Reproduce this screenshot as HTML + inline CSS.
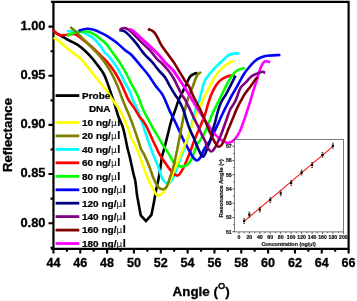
<!DOCTYPE html>
<html><head><meta charset="utf-8"><title>Reflectance vs Angle</title>
<style>html,body{margin:0;padding:0;background:#fff}body{width:357px;height:301px;overflow:hidden}</style></head>
<body>
<svg width="357" height="301" viewBox="0 0 357 301" style="display:block;filter:blur(0.35px)">
<rect width="357" height="301" fill="#fff"/>
<path d="M51.05 1.80H349.65M51.05 248.80H349.65M53.45 1.80V248.80M348.60 1.80V248.80" fill="none" stroke="#000" stroke-width="2.2"/>
<g fill="none" stroke-width="2.6" stroke-linecap="butt" stroke-linejoin="miter">
<path stroke="#000000" d="M53.5 31.0C54.1 31.4 55.8 32.8 57.0 33.5C58.2 34.2 59.3 34.8 60.5 35.5C61.7 36.2 62.7 36.8 64.3 37.7C65.9 38.6 68.1 39.9 70.2 41.0C72.3 42.1 74.7 43.0 76.9 44.4C79.1 45.8 81.4 47.5 83.6 49.5C85.8 51.5 88.2 53.9 90.3 56.2C92.4 58.5 94.1 60.6 96.3 63.5C98.5 66.4 101.6 70.2 103.5 73.5C105.4 76.8 106.4 80.2 107.7 83.6C109.0 87.0 110.0 90.3 111.1 93.7C112.2 97.1 113.3 99.9 114.5 103.7C115.7 107.5 117.1 112.9 118.5 116.8C119.9 120.7 121.6 123.5 122.7 126.9C123.8 130.3 124.5 133.7 125.2 137.0C126.0 140.3 126.4 143.4 127.2 147.0C128.0 150.6 129.1 154.0 130.1 158.4C131.1 162.8 132.6 170.0 133.4 173.6C134.2 177.2 134.6 177.5 135.1 180.0C135.6 182.5 136.0 186.0 136.3 188.7C136.7 191.4 136.4 191.6 137.2 196.0C137.9 200.4 140.8 215.4 140.8 215.4L146.0 221.1L151.4 214.9C151.4 214.9 152.8 208.1 153.6 204.0C154.4 199.9 155.3 194.1 156.1 190.1C156.9 186.1 157.6 183.6 158.3 180.0C159.0 176.4 159.7 172.4 160.3 168.5C160.9 164.6 161.3 160.4 162.0 156.8C162.7 153.2 163.8 150.6 164.7 147.0C165.6 143.4 166.5 139.5 167.6 135.3C168.7 131.1 169.7 126.0 171.0 121.8C172.3 117.6 173.9 113.7 175.2 110.1C176.5 106.5 177.6 102.6 178.6 100.0C179.6 97.4 180.2 96.8 181.3 94.5C182.5 92.2 184.1 89.0 185.5 86.1C186.9 83.1 188.4 78.9 190.0 76.8C191.6 74.7 193.8 74.1 195.1 73.5C196.4 72.9 197.2 73.1 197.6 73.0"/>
<path stroke="#00ffff" d="M66.8 31.0C67.6 31.1 69.5 31.2 71.8 31.3C74.0 31.4 77.8 31.3 80.3 31.8C82.8 32.3 84.8 33.2 87.0 34.3C89.2 35.4 91.5 36.5 93.7 38.5C95.9 40.5 98.5 43.7 100.4 46.1C102.3 48.5 103.8 51.3 105.0 52.8C106.2 54.3 106.3 53.4 107.7 55.0C109.1 56.6 111.6 59.8 113.6 62.6C115.6 65.4 117.7 68.6 119.5 71.8C121.3 75.0 122.8 78.7 124.5 81.9C126.2 85.1 128.2 88.1 129.6 91.1C131.0 94.1 131.4 96.8 132.8 100.0C134.2 103.2 136.4 106.8 137.8 110.1C139.2 113.4 139.7 115.5 141.2 120.0C142.7 124.5 144.9 131.3 146.9 137.0C148.9 142.7 150.9 148.7 152.9 153.9C154.9 159.1 157.2 164.0 158.7 168.0C160.2 172.0 160.8 175.5 162.0 178.0C163.2 180.5 165.0 181.9 166.0 182.8C167.0 183.8 167.1 184.0 168.0 183.7C168.9 183.4 170.2 182.6 171.3 181.1C172.4 179.6 173.1 178.2 174.6 174.4C176.1 170.6 178.5 163.5 180.4 158.5C182.3 153.5 184.3 149.1 186.0 144.2C187.7 139.3 188.8 135.0 190.5 129.0C192.2 123.0 194.5 113.2 196.0 108.4C197.5 103.6 198.4 102.7 199.3 100.0C200.2 97.3 200.5 95.3 201.5 92.0C202.5 88.7 203.2 84.0 205.2 80.2C207.2 76.4 210.8 72.5 213.6 69.3C216.4 66.1 219.3 63.6 221.9 61.2C224.5 58.8 226.4 56.1 229.3 54.8C232.2 53.5 237.7 53.5 239.4 53.2"/>
<path stroke="#ff0000" d="M53.4 30.1C53.8 30.6 54.9 32.1 56.0 33.0C57.1 33.9 58.2 34.9 60.0 35.2C61.8 35.5 64.3 34.9 66.8 34.8C69.3 34.6 72.4 33.4 75.2 34.3C78.0 35.2 80.8 38.1 83.6 40.2C86.4 42.3 89.2 44.5 92.0 47.0C94.8 49.5 97.8 52.7 100.4 55.3C103.0 57.9 105.4 59.9 107.7 62.6C110.0 65.3 112.4 68.6 114.5 71.8C116.6 75.0 118.6 78.7 120.3 81.9C122.0 85.1 123.1 88.1 124.5 91.1C125.9 94.1 126.9 97.1 128.6 100.0C130.3 102.9 132.7 105.6 134.5 108.4C136.3 111.2 138.0 114.6 139.5 116.8C141.0 119.0 142.2 119.5 143.5 121.5C144.8 123.5 146.2 125.8 147.5 128.5C148.8 131.2 150.1 134.4 151.5 137.5C152.9 140.6 154.7 144.3 156.0 147.0C157.3 149.7 158.4 152.2 159.3 153.9C160.2 155.7 160.2 155.3 161.6 157.5C163.0 159.7 166.2 164.4 167.9 166.8C169.7 169.2 170.5 170.4 172.1 171.9C173.7 173.4 175.8 176.0 177.6 175.6C179.3 175.2 181.1 172.0 182.6 169.4C184.1 166.8 185.5 163.1 186.8 160.2C188.1 157.3 188.9 155.2 190.2 151.8C191.5 148.4 192.8 144.2 194.5 140.0C196.2 135.8 198.5 130.5 200.2 126.5C201.9 122.5 203.2 119.7 204.5 116.0C205.8 112.3 206.9 107.8 208.0 104.2C209.1 100.6 210.0 97.7 211.3 94.5C212.7 91.3 214.4 87.8 216.1 85.2C217.8 82.7 219.6 80.7 221.7 79.2C223.8 77.7 226.4 76.7 228.4 76.0C230.4 75.3 232.7 75.3 233.5 75.2"/>
<path stroke="#00ff00" d="M66.8 36.0C67.6 35.6 69.5 34.2 71.8 33.5C74.0 32.8 77.5 32.1 80.3 31.8C83.1 31.5 86.2 31.2 88.7 31.8C91.2 32.4 93.2 33.8 95.4 35.2C97.6 36.6 100.1 38.7 102.0 40.2C103.9 41.7 104.8 42.1 106.7 44.4C108.6 46.6 111.1 50.5 113.4 53.7C115.7 56.9 118.2 60.1 120.3 63.4C122.4 66.7 124.4 70.1 126.2 73.5C128.0 76.9 129.6 80.4 131.3 83.6C133.0 86.8 134.9 90.0 136.3 92.8C137.7 95.6 138.6 97.7 139.7 100.4C140.8 103.1 141.4 105.9 142.9 109.2C144.4 112.5 146.8 116.5 148.6 120.0C150.4 123.5 152.5 127.4 154.0 130.0C155.5 132.6 156.1 133.3 157.6 135.8C159.1 138.3 161.1 142.0 163.0 145.0C164.9 148.0 167.6 151.8 168.9 153.9C170.2 156.0 170.0 156.2 171.0 157.8C172.0 159.4 173.2 162.0 175.0 163.5C176.8 165.0 179.7 166.4 181.8 166.6C183.9 166.8 186.1 165.5 187.6 164.4C189.1 163.3 189.9 162.3 191.0 160.2C192.1 158.1 193.4 154.5 194.4 151.8C195.4 149.1 196.3 145.9 197.2 144.0C198.1 142.1 198.8 142.4 200.0 140.5C201.2 138.6 203.3 135.3 204.6 132.8C205.9 130.3 206.8 128.2 208.0 125.3C209.2 122.4 210.2 118.8 211.8 115.2C213.4 111.6 215.9 106.7 217.5 103.4C219.1 100.1 219.9 98.5 221.5 95.3C223.1 92.1 225.4 87.1 227.1 84.0C228.8 80.9 229.8 78.8 231.5 76.5C233.2 74.2 234.8 71.9 237.0 70.5C239.2 69.1 243.5 68.3 244.8 67.9"/>
<path stroke="#0000ff" d="M78.6 30.5C80.0 30.2 84.5 28.9 87.0 28.8C89.5 28.7 91.5 29.2 93.7 29.8C95.9 30.4 98.0 31.4 100.4 32.6C102.9 33.8 105.7 35.1 108.4 36.8C111.1 38.5 114.0 40.5 116.8 42.7C119.6 45.0 122.8 48.2 125.2 50.3C127.7 52.3 129.0 52.5 131.5 55.0C134.0 57.5 137.3 61.7 140.1 65.1C142.9 68.5 146.0 71.8 148.5 75.2C151.0 78.6 153.0 82.2 155.2 85.3C157.4 88.4 160.2 91.2 161.9 93.7C163.6 96.2 163.9 97.3 165.1 100.0C166.3 102.7 167.8 106.7 169.3 110.1C170.9 113.5 172.7 116.7 174.4 120.2C176.1 123.7 177.9 127.8 179.4 131.1C180.9 134.4 182.2 137.5 183.6 140.3C185.0 143.1 186.3 145.2 187.8 148.0C189.3 150.8 191.2 154.7 192.7 156.8C194.2 158.9 195.6 160.4 196.9 160.5C198.2 160.6 199.3 159.0 200.3 157.6C201.3 156.2 201.8 153.8 202.8 151.8C203.8 149.9 204.8 147.9 206.1 145.9C207.4 143.9 209.1 142.3 210.5 140.0C211.9 137.7 213.0 134.9 214.3 132.0C215.6 129.1 217.1 125.8 218.5 122.7C219.9 119.6 221.1 116.7 222.7 113.5C224.2 110.3 226.3 106.3 227.8 103.4C229.3 100.5 229.9 98.9 231.5 96.0C233.1 93.1 235.2 89.6 237.3 86.0C239.4 82.4 241.5 77.7 243.8 74.2C246.1 70.7 248.8 67.5 251.0 65.0C253.2 62.5 254.6 60.9 257.0 59.4C259.4 57.9 261.5 56.7 265.4 56.0C269.3 55.3 277.9 55.2 280.4 55.0"/>
<path stroke="#ffff00" d="M53.7 37.7C54.8 38.4 57.8 40.2 60.0 41.9C62.2 43.6 64.3 45.7 66.8 47.8C69.3 49.9 72.8 52.6 75.2 54.5C77.6 56.4 79.1 57.1 81.0 59.0C82.9 60.9 84.6 63.4 86.7 65.9C88.8 68.5 91.2 71.5 93.4 74.3C95.7 77.1 98.0 79.9 100.2 82.7C102.5 85.5 104.8 88.2 106.9 91.1C109.0 94.0 110.7 97.1 112.6 100.0C114.5 102.9 116.7 105.5 118.5 108.4C120.3 111.3 122.0 114.4 123.5 117.6C125.0 120.8 126.4 124.3 127.7 127.7C129.0 131.1 129.9 134.9 131.1 137.8C132.3 140.7 133.7 142.1 135.1 145.0C136.5 147.9 137.9 151.5 139.3 155.1C140.7 158.7 142.1 162.9 143.5 166.8C144.9 170.7 146.1 175.0 147.7 178.6C149.2 182.2 151.4 185.8 152.8 188.4C154.2 191.0 155.1 193.1 156.1 194.3C157.1 195.5 157.4 195.9 158.7 195.5C160.0 195.1 162.4 193.4 163.7 192.1C164.9 190.8 165.1 189.5 166.2 187.5C167.3 185.5 168.9 183.2 170.2 180.3C171.5 177.4 172.8 173.7 174.2 170.3C175.6 167.0 177.0 163.6 178.4 160.2C179.8 156.8 181.2 153.5 182.6 150.1C184.0 146.7 185.2 144.2 186.8 140.0C188.4 135.8 190.4 129.6 192.0 125.2C193.6 120.8 195.1 116.8 196.6 113.4C198.1 110.0 199.6 108.0 201.0 105.0C202.4 102.0 203.4 98.8 205.0 95.5C206.6 92.2 208.5 88.7 210.3 85.3C212.2 81.9 214.2 78.0 216.1 75.2C218.0 72.4 219.5 70.7 221.7 68.6C223.9 66.5 227.2 64.0 229.3 62.7C231.4 61.4 233.6 61.3 234.5 61.0"/>
<path stroke="#808000" d="M70.2 27.1C71.3 28.0 74.7 30.6 76.9 32.6C79.1 34.6 81.4 37.1 83.6 39.4C85.8 41.6 88.1 43.9 90.3 46.1C92.5 48.3 94.6 50.1 97.0 52.8C99.4 55.4 102.2 58.7 104.5 62.0C106.8 65.3 109.2 69.1 111.1 72.6C113.0 76.0 114.7 79.6 116.1 82.7C117.5 85.8 118.4 88.1 119.5 91.1C120.6 94.0 121.7 97.2 122.9 100.4C124.1 103.6 125.5 106.8 126.9 110.1C128.3 113.4 129.7 116.6 131.1 120.2C132.5 123.8 134.0 128.3 135.3 131.9C136.6 135.5 137.7 139.1 138.7 142.0C139.7 144.9 140.2 147.4 141.2 149.6C142.1 151.8 143.0 152.2 144.4 155.1C145.8 158.0 147.9 162.9 149.4 166.8C150.9 170.7 152.2 175.3 153.6 178.6C155.0 181.9 156.4 184.7 157.8 186.5C159.2 188.3 160.6 189.1 162.0 189.3C163.4 189.5 164.9 189.3 166.2 187.5C167.5 185.7 168.5 181.8 169.6 178.6C170.7 175.4 171.8 172.4 172.9 168.5C174.0 164.6 175.2 159.3 176.1 155.0C177.0 150.7 177.6 147.5 178.6 142.5C179.6 137.5 180.9 130.3 181.9 125.2C182.9 120.1 183.6 116.0 184.5 111.8C185.4 107.6 186.2 104.2 187.5 100.0C188.8 95.8 191.0 90.9 192.6 86.9C194.2 82.9 195.4 78.5 196.8 76.0C198.2 73.5 200.3 72.5 201.0 71.8"/>
<path stroke="#ff00ff" d="M129.5 28.9C129.9 29.1 131.2 29.6 132.0 30.2C132.8 30.8 132.8 30.6 134.6 32.2C136.4 33.8 140.1 37.1 142.8 39.6C145.5 42.1 148.3 44.6 151.0 47.2C153.7 49.8 156.4 52.5 158.9 55.2C161.4 57.9 163.8 60.9 166.1 63.4C168.4 65.9 170.8 67.6 172.9 70.1C175.0 72.6 176.9 75.8 178.7 78.5C180.5 81.2 182.2 83.7 183.8 86.1C185.4 88.5 186.4 90.1 188.0 92.8C189.6 95.5 192.2 100.0 193.4 102.0C194.6 104.0 193.6 102.9 195.0 105.1C196.4 107.3 199.5 111.8 201.7 115.2C203.9 118.6 206.2 122.1 208.4 125.3C210.7 128.5 212.9 132.0 215.2 134.5C217.4 137.0 219.7 139.0 221.9 140.4C224.1 141.8 226.5 143.1 228.6 142.9C230.7 142.8 232.7 141.3 234.5 139.5C236.3 137.7 238.1 134.7 239.5 132.0C240.9 129.3 241.8 126.7 242.9 123.6C244.0 120.5 245.2 116.9 246.3 113.5C247.4 110.1 248.6 106.5 249.6 103.4C250.6 100.3 251.3 97.7 252.1 95.0C252.9 92.3 253.8 89.5 254.6 87.0C255.4 84.5 256.1 82.8 257.0 79.9C257.9 77.0 258.7 72.6 259.8 69.7C260.9 66.8 262.5 63.9 263.5 62.5C264.5 61.1 264.9 61.2 266.0 61.2C267.1 61.2 269.5 62.0 270.2 62.2"/>
<path stroke="#000080" d="M119.3 30.1C120.3 30.4 122.8 30.1 125.2 31.8C127.6 33.5 130.8 37.0 133.6 40.2C136.4 43.4 140.1 48.6 142.0 51.1C143.9 53.6 143.5 53.2 145.1 55.0C146.7 56.8 149.6 59.2 151.8 61.7C154.1 64.2 156.3 67.4 158.6 70.1C160.8 72.8 163.4 74.9 165.3 77.7C167.2 80.5 168.6 84.0 170.3 86.9C172.0 89.8 174.0 93.1 175.4 95.3C176.8 97.5 177.4 97.8 178.6 100.0C179.8 102.2 181.6 105.3 182.8 108.4C184.1 111.5 185.0 115.1 186.1 118.5C187.2 121.9 188.2 125.4 189.5 128.6C190.8 131.8 192.3 134.6 193.7 137.8C195.1 141.0 196.6 145.0 197.7 147.6C198.8 150.2 199.5 151.9 200.3 153.4C201.2 154.9 202.0 156.8 202.8 156.8C203.6 156.8 204.5 155.1 205.3 153.4C206.1 151.7 207.0 148.7 207.8 146.7C208.6 144.7 209.3 143.8 210.1 141.2C210.9 138.6 211.8 134.3 212.6 131.1C213.4 127.9 214.3 125.1 215.2 121.9C216.0 118.7 216.7 115.2 217.7 111.8C218.7 108.4 220.0 104.6 221.4 101.7C222.8 98.8 224.3 97.3 226.0 94.3C227.7 91.3 229.9 86.7 231.5 83.6C233.1 80.5 234.8 77.0 235.5 75.7"/>
<path stroke="#800080" d="M119.8 29.3C120.7 29.1 123.5 27.8 125.2 28.1C127.0 28.4 128.3 29.4 130.3 31.0C132.3 32.6 134.8 35.5 137.0 37.7C139.2 39.9 141.5 42.2 143.7 44.4C145.9 46.6 148.0 48.3 150.2 50.7C152.4 53.1 154.8 56.6 156.7 58.7C158.6 60.8 159.9 61.4 161.9 63.4C163.9 65.5 166.7 68.5 168.7 71.0C170.7 73.5 172.2 75.8 173.7 78.5C175.2 81.2 176.5 84.1 177.9 86.9C179.3 89.7 180.9 93.1 182.1 95.3C183.3 97.5 184.1 97.8 185.3 100.0C186.5 102.2 188.1 105.5 189.5 108.4C190.9 111.3 192.3 114.6 193.7 117.6C195.1 120.5 196.6 123.4 197.9 126.1C199.2 128.8 200.0 130.9 201.3 133.6C202.6 136.2 204.6 139.8 205.5 142.0C206.4 144.2 206.1 145.1 207.0 146.7C207.9 148.3 209.9 151.1 211.2 151.4C212.4 151.7 213.5 149.7 214.5 148.4C215.5 147.1 216.2 145.3 217.1 143.4C218.0 141.5 219.1 139.6 220.2 137.0C221.3 134.4 222.5 130.9 223.6 127.8C224.7 124.7 225.8 121.6 226.9 118.5C228.0 115.4 229.0 112.0 230.3 109.3C231.6 106.6 233.4 104.6 234.5 102.6C235.6 100.5 236.0 99.5 237.0 97.0C238.0 94.5 239.1 90.2 240.5 87.8C241.9 85.4 243.8 84.6 245.6 82.7C247.4 80.8 249.4 78.0 251.3 76.5C253.2 75.0 255.1 74.4 257.0 73.6C258.9 72.8 261.2 71.8 262.6 71.7C264.0 71.6 264.7 72.9 265.1 73.1"/>
<path stroke="#ff00ff" d="M129.5 28.9C129.9 29.1 131.2 29.6 132.0 30.2C132.8 30.8 132.8 30.6 134.6 32.2C136.4 33.8 140.1 37.1 142.8 39.6C145.5 42.1 148.3 44.6 151.0 47.2C153.7 49.8 156.4 52.5 158.9 55.2C161.4 57.9 163.8 60.9 166.1 63.4C168.4 65.9 170.8 67.6 172.9 70.1C175.0 72.6 176.9 75.8 178.7 78.5C180.5 81.2 182.2 83.7 183.8 86.1C185.4 88.5 186.4 90.1 188.0 92.8C189.6 95.5 192.5 100.5 193.4 102.0"/>
<path stroke="#800000" d="M147.9 29.3C148.3 29.4 149.5 29.4 150.5 29.9C151.5 30.3 152.7 30.9 153.8 32.0C154.9 33.1 156.0 34.7 157.2 36.8C158.4 38.9 159.3 41.7 160.9 44.4C162.5 47.1 165.0 50.3 166.8 52.8C168.6 55.3 170.5 57.7 171.8 59.5C173.1 61.3 173.2 61.4 174.5 63.4C175.8 65.5 177.9 69.0 179.6 71.8C181.3 74.6 183.1 77.8 184.6 80.2C186.1 82.6 187.3 83.4 188.8 86.1C190.3 88.8 191.9 93.1 193.4 96.2C194.9 99.3 196.4 102.3 197.6 104.6C198.8 106.9 199.1 107.4 200.4 110.1C201.7 112.8 203.7 117.2 205.3 121.0C206.9 124.8 208.5 129.3 210.1 132.8C211.7 136.3 213.3 139.7 214.7 142.0C216.1 144.3 217.5 146.3 218.7 146.7C219.9 147.1 221.0 145.8 222.1 144.2C223.2 142.6 224.2 139.6 225.3 137.0C226.4 134.4 227.3 131.7 228.6 128.6C229.8 125.5 231.5 121.6 232.8 118.5C234.1 115.4 234.9 112.9 236.2 110.1C237.5 107.3 238.9 104.4 240.4 101.7C241.9 99.0 243.2 96.4 244.9 93.8C246.7 91.2 249.2 88.2 250.9 85.9C252.6 83.6 253.9 81.5 255.0 80.0C256.1 78.5 257.1 77.5 257.5 77.0"/>
</g>
<g stroke-width="2.8" fill="none">
<path stroke="#000000" d="M55.6 95.6H79.3"/>
<path stroke="#ffff00" d="M55.6 122.5H79.3"/>
<path stroke="#808000" d="M55.6 135.9H79.3"/>
<path stroke="#00ffff" d="M55.6 149.4H79.3"/>
<path stroke="#ff0000" d="M55.6 162.8H79.3"/>
<path stroke="#00ff00" d="M55.6 176.3H79.3"/>
<path stroke="#0000ff" d="M55.6 189.8H79.3"/>
<path stroke="#000080" d="M55.6 203.2H79.3"/>
<path stroke="#800080" d="M55.6 216.6H79.3"/>
<path stroke="#800000" d="M55.6 230.1H79.3"/>
<path stroke="#ff00ff" d="M55.6 243.5H79.3"/>
</g>
<g font-family="'Liberation Sans',Arial,sans-serif" font-weight="bold" font-size="10" fill="#000" stroke="#000" stroke-width="0.25">
<text transform="translate(82 98.9) scale(1 0.95)">Probe</text>
<text transform="translate(88.9 112.3) scale(1 0.95)">DNA</text>
<text transform="translate(82 125.8) scale(1 0.95)">10 ng/<tspan font-family="'DejaVu Sans','Liberation Sans',sans-serif" font-weight="normal" font-size="9" stroke="none">μ</tspan><tspan font-size="11" dx="0.6">l</tspan></text>
<text transform="translate(82 139.2) scale(1 0.95)">20 ng/<tspan font-family="'DejaVu Sans','Liberation Sans',sans-serif" font-weight="normal" font-size="9" stroke="none">μ</tspan><tspan font-size="11" dx="0.6">l</tspan></text>
<text transform="translate(82 152.7) scale(1 0.95)">40 ng/<tspan font-family="'DejaVu Sans','Liberation Sans',sans-serif" font-weight="normal" font-size="9" stroke="none">μ</tspan><tspan font-size="11" dx="0.6">l</tspan></text>
<text transform="translate(82 166.2) scale(1 0.95)">60 ng/<tspan font-family="'DejaVu Sans','Liberation Sans',sans-serif" font-weight="normal" font-size="9" stroke="none">μ</tspan><tspan font-size="11" dx="0.6">l</tspan></text>
<text transform="translate(82 179.6) scale(1 0.95)">80 ng/<tspan font-family="'DejaVu Sans','Liberation Sans',sans-serif" font-weight="normal" font-size="9" stroke="none">μ</tspan><tspan font-size="11" dx="0.6">l</tspan></text>
<text transform="translate(82 193.1) scale(1 0.95)">100 ng/<tspan font-family="'DejaVu Sans','Liberation Sans',sans-serif" font-weight="normal" font-size="9" stroke="none">μ</tspan><tspan font-size="11" dx="0.6">l</tspan></text>
<text transform="translate(82 206.5) scale(1 0.95)">120 ng/<tspan font-family="'DejaVu Sans','Liberation Sans',sans-serif" font-weight="normal" font-size="9" stroke="none">μ</tspan><tspan font-size="11" dx="0.6">l</tspan></text>
<text transform="translate(82 219.9) scale(1 0.95)">140 ng/<tspan font-family="'DejaVu Sans','Liberation Sans',sans-serif" font-weight="normal" font-size="9" stroke="none">μ</tspan><tspan font-size="11" dx="0.6">l</tspan></text>
<text transform="translate(82 233.4) scale(1 0.95)">160 ng/<tspan font-family="'DejaVu Sans','Liberation Sans',sans-serif" font-weight="normal" font-size="9" stroke="none">μ</tspan><tspan font-size="11" dx="0.6">l</tspan></text>
<text transform="translate(82 246.8) scale(1 0.95)">180 ng/<tspan font-family="'DejaVu Sans','Liberation Sans',sans-serif" font-weight="normal" font-size="9" stroke="none">μ</tspan><tspan font-size="11" dx="0.6">l</tspan></text>
</g>
<rect x="234.3" y="139.4" width="109.2" height="92.5" fill="#fff" stroke="#333" stroke-width="0.65"/>
<path d="M234.3 231.7h-2M234.3 224.6h-1.2M234.3 217.5h-2M234.3 210.3h-1.2M234.3 203.2h-2M234.3 196.1h-1.2M234.3 189.0h-2M234.3 181.9h-1.2M234.3 174.7h-2M234.3 167.6h-1.2M234.3 160.5h-2M234.3 153.4h-1.2M234.3 146.3h-2M238.9 231.9v2M244.1 231.9v1.2M249.3 231.9v2M254.6 231.9v1.2M259.8 231.9v2M265.0 231.9v1.2M270.2 231.9v2M275.5 231.9v1.2M280.7 231.9v2M285.9 231.9v1.2M291.1 231.9v2M296.4 231.9v1.2M301.6 231.9v2M306.8 231.9v1.2M312.1 231.9v2M317.3 231.9v1.2M322.5 231.9v2M327.7 231.9v1.2M332.9 231.9v2M338.2 231.9v1.2M343.4 231.9v2" stroke="#222" stroke-width="0.7" fill="none"/>
<g font-family="'Liberation Sans',Arial,sans-serif" font-weight="bold" font-size="5.2" fill="#111" stroke="#111" stroke-width="0.2">
<text x="231.7" y="233.6" text-anchor="end">51</text>
<text x="231.7" y="219.4" text-anchor="end">52</text>
<text x="231.7" y="205.1" text-anchor="end">53</text>
<text x="231.7" y="190.9" text-anchor="end">54</text>
<text x="231.7" y="176.6" text-anchor="end">55</text>
<text x="231.7" y="162.4" text-anchor="end">56</text>
<text x="231.7" y="148.2" text-anchor="end">57</text>
<text x="238.9" y="238.7" text-anchor="middle">0</text>
<text x="249.3" y="238.7" text-anchor="middle">20</text>
<text x="259.8" y="238.7" text-anchor="middle">40</text>
<text x="270.2" y="238.7" text-anchor="middle">60</text>
<text x="280.7" y="238.7" text-anchor="middle">80</text>
<text x="291.1" y="238.7" text-anchor="middle">100</text>
<text x="301.6" y="238.7" text-anchor="middle">120</text>
<text x="312.1" y="238.7" text-anchor="middle">140</text>
<text x="322.5" y="238.7" text-anchor="middle">160</text>
<text x="332.9" y="238.7" text-anchor="middle">180</text>
<text x="343.4" y="238.7" text-anchor="middle">200</text>
<text x="288.6" y="245.8" text-anchor="middle" font-size="5.4">Concentration (ng/<tspan font-weight="normal">μ</tspan>l)</text>
<text transform="translate(223.1 188.3) rotate(-90) scale(1.2 1)" text-anchor="middle" font-size="5">Resonance Angle (<tspan font-size="3.4" dy="-1.4">o</tspan><tspan dy="1.4">)</tspan></text>
</g>
<path d="M244.1 221.4L332.9 146.3" stroke="#ff1010" stroke-width="1.1"/>
<path d="M244.1 218.4v5M243.2 218.4h1.8M243.2 223.4h1.8M249.3 212.1v5M248.4 212.1h1.8M248.4 217.1h1.8M259.8 207.1v5M258.9 207.1h1.8M258.9 212.1h1.8M270.2 197.6v5M269.4 197.6h1.8M269.4 202.6h1.8M280.7 190.8v5M279.8 190.8h1.8M279.8 195.8h1.8M291.1 180.4v5M290.2 180.4h1.8M290.2 185.4h1.8M301.6 170.0v5M300.7 170.0h1.8M300.7 175.0h1.8M312.1 162.4v5M311.2 162.4h1.8M311.2 167.4h1.8M322.5 152.4v5M321.6 152.4h1.8M321.6 157.4h1.8M332.9 143.2v5M332.1 143.2h1.8M332.1 148.2h1.8" stroke="#111" stroke-width="0.6" fill="none"/>
<rect x="243.0" y="219.8" width="2.2" height="2.2" fill="#000"/>
<rect x="248.2" y="213.5" width="2.2" height="2.2" fill="#000"/>
<rect x="258.7" y="208.5" width="2.2" height="2.2" fill="#000"/>
<rect x="269.1" y="199.0" width="2.2" height="2.2" fill="#000"/>
<rect x="279.6" y="192.2" width="2.2" height="2.2" fill="#000"/>
<rect x="290.0" y="181.8" width="2.2" height="2.2" fill="#000"/>
<rect x="300.5" y="171.4" width="2.2" height="2.2" fill="#000"/>
<rect x="310.9" y="163.8" width="2.2" height="2.2" fill="#000"/>
<rect x="321.4" y="153.8" width="2.2" height="2.2" fill="#000"/>
<rect x="331.8" y="144.6" width="2.2" height="2.2" fill="#000"/>
<path d="M53.45 248.8v4.6M66.87 248.8v3M80.28 248.8v4.6M93.70 248.8v3M107.11 248.8v4.6M120.53 248.8v3M133.95 248.8v4.6M147.36 248.8v3M160.78 248.8v4.6M174.19 248.8v3M187.61 248.8v4.6M201.03 248.8v3M214.44 248.8v4.6M227.86 248.8v3M241.27 248.8v4.6M254.69 248.8v3M268.10 248.8v4.6M281.52 248.8v3M294.94 248.8v4.6M308.35 248.8v3M321.77 248.8v4.6M335.18 248.8v3M348.60 248.8v4.6M53.5 26.60h-5M53.5 51.18h-3M53.5 75.75h-5M53.5 100.33h-3M53.5 124.90h-5M53.5 149.47h-3M53.5 174.05h-5M53.5 198.63h-3M53.5 223.20h-5M53.5 247.77h-3" stroke="#000" stroke-width="2.1" fill="none"/>
<g font-family="'Liberation Sans',Arial,sans-serif" font-weight="bold" font-size="13.1" fill="#000" stroke="#000" stroke-width="0.3">
<text x="53.5" y="266.8" text-anchor="middle" font-size="12.6">44</text>
<text x="80.3" y="266.8" text-anchor="middle" font-size="12.6">46</text>
<text x="107.1" y="266.8" text-anchor="middle" font-size="12.6">48</text>
<text x="133.9" y="266.8" text-anchor="middle" font-size="12.6">50</text>
<text x="160.8" y="266.8" text-anchor="middle" font-size="12.6">52</text>
<text x="187.6" y="266.8" text-anchor="middle" font-size="12.6">54</text>
<text x="214.4" y="266.8" text-anchor="middle" font-size="12.6">56</text>
<text x="241.3" y="266.8" text-anchor="middle" font-size="12.6">58</text>
<text x="268.1" y="266.8" text-anchor="middle" font-size="12.6">60</text>
<text x="294.9" y="266.8" text-anchor="middle" font-size="12.6">62</text>
<text x="321.8" y="266.8" text-anchor="middle" font-size="12.6">64</text>
<text x="348.6" y="266.8" text-anchor="middle" font-size="12.6">66</text>
<text x="45.5" y="29.9" text-anchor="end" font-size="12.9">1.00</text>
<text x="45.5" y="79.1" text-anchor="end" font-size="12.9">0.95</text>
<text x="45.5" y="128.2" text-anchor="end" font-size="12.9">0.90</text>
<text x="45.5" y="177.4" text-anchor="end" font-size="12.9">0.85</text>
<text x="45.5" y="226.5" text-anchor="end" font-size="12.9">0.80</text>
<text transform="translate(11.6 135) rotate(-90)" text-anchor="middle" font-size="13.2">Reflectance</text>
<text x="172.6" y="296.1" font-size="13.4">Angle (<tspan font-size="9.3" dy="-7.2">O</tspan><tspan dy="7.2">)</tspan></text>
</g>
</svg>
</body></html>
